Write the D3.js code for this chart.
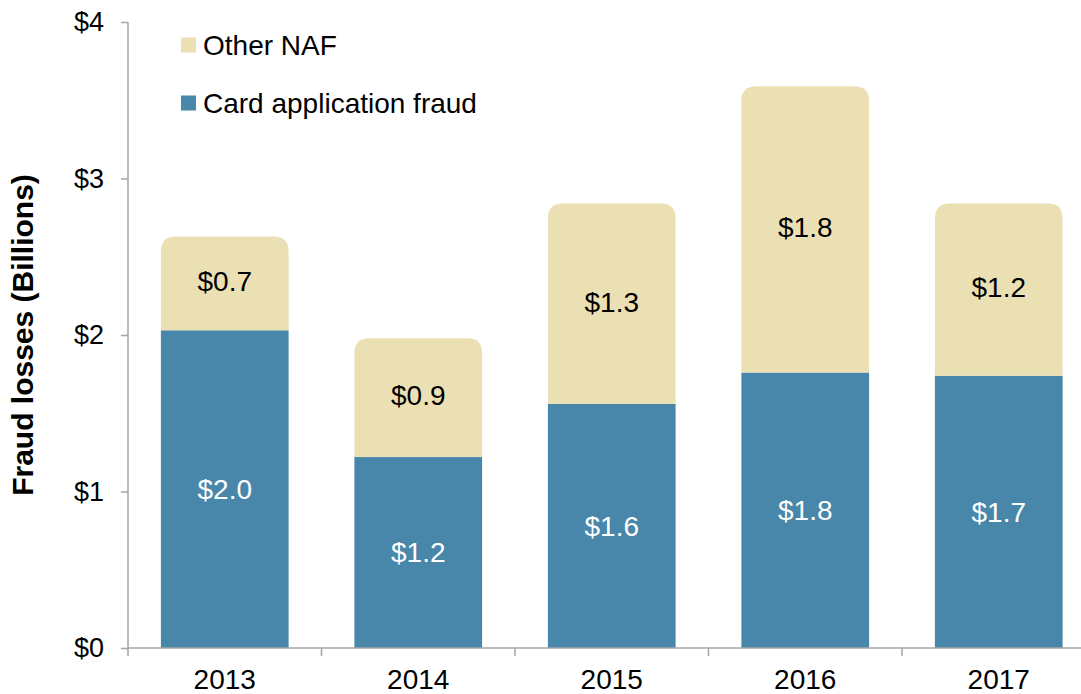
<!DOCTYPE html>
<html>
<head>
<meta charset="utf-8">
<script src="https://cdn.jsdelivr.net/npm/d3@7"></script>
<style>
  body { margin: 0; background: #fff; }
  text { font-family: "Liberation Sans", Arial, sans-serif; }
</style>
</head>
<body>
<script>
// chart data
var years = ["2013", "2014", "2015", "2016", "2017"];
var cardValues = [2.03, 1.22, 1.56, 1.76, 1.74];
var otherValues = [0.60, 0.76, 1.28, 1.83, 1.10];
var cardLabels = ["$2.0", "$1.2", "$1.6", "$1.8", "$1.7"];
var otherLabels = ["$0.7", "$0.9", "$1.3", "$1.8", "$1.2"];
var yTicks = [0, 1, 2, 3, 4];

var width = 1081,
    height = 694;

var blue = "#4887aa",
    tan = "#ebe0b4",
    axisGray = "#a6a6a6";

var x0 = 128, step = 193.5;

var x = d3.scaleBand()
    .domain(years)
    .range([x0, x0 + step * years.length])
    .paddingInner(0.34)
    .paddingOuter(0.17);

var y = d3.scaleLinear()
    .domain([0, 4])
    .range([648, 22]);

var svg = d3.select("body").append("svg")
    .attr("width", width)
    .attr("height", height);

var rows = years.map(function(yr, i) {
  return {year: yr, card: cardValues[i], other: otherValues[i],
    cardLabel: cardLabels[i], otherLabel: otherLabels[i]};
});

// bottom segment: card application fraud
svg.selectAll("rect.card")
    .data(rows)
  .enter().append("rect")
    .attr("class", "card")
    .attr("x", function(d) { return x(d.year); })
    .attr("y", function(d) { return y(d.card); })
    .attr("width", x.bandwidth())
    .attr("height", function(d) { return y(0) - y(d.card); })
    .attr("fill", blue);

// top segment with rounded top corners
function topPath(d) {
  var r = 15,
      x1 = x(d.year), x2 = x1 + x.bandwidth(),
      yb = y(d.card), yt = y(d.card + d.other);
  return "M" + x1 + "," + yb +
    "L" + x1 + "," + (yt + r) +
    "Q" + x1 + "," + yt + " " + (x1 + r) + "," + yt +
    "L" + (x2 - r) + "," + yt +
    "Q" + x2 + "," + yt + " " + x2 + "," + (yt + r) +
    "L" + x2 + "," + yb + "Z";
}

svg.selectAll("path.other")
    .data(rows)
  .enter().append("path")
    .attr("class", "other")
    .attr("d", topPath)
    .attr("fill", tan);

// value labels
svg.selectAll("text.cardLabel")
    .data(rows)
  .enter().append("text")
    .attr("x", function(d) { return x(d.year) + x.bandwidth() / 2; })
    .attr("y", function(d) { return y(d.card / 2); })
    .attr("dy", "0.35em")
    .attr("text-anchor", "middle")
    .attr("font-size", 28)
    .attr("fill", "#fff")
    .text(function(d) { return d.cardLabel; });

svg.selectAll("text.otherLabel")
    .data(rows)
  .enter().append("text")
    .attr("x", function(d) { return x(d.year) + x.bandwidth() / 2; })
    .attr("y", function(d) { return y(d.card + d.other / 2); })
    .attr("dy", "0.28em")
    .attr("text-anchor", "middle")
    .attr("font-size", 28)
    .attr("fill", "#000")
    .text(function(d) { return d.otherLabel; });

// y axis
var yAxis = svg.append("g")
    .attr("transform", "translate(" + x0 + ",0)")
    .call(d3.axisLeft(y).tickValues(yTicks).tickSize(7).tickPadding(17)
      .tickFormat(function(d) { return "$" + d; }));
yAxis.select(".domain").attr("stroke", axisGray).attr("stroke-width", 1.5)
    .attr("d", "M0," + y(4) + "V" + y(0));
yAxis.selectAll(".tick line").attr("stroke", axisGray).attr("stroke-width", 1.5);
yAxis.selectAll(".tick text")
    .attr("font-size", 27)
    .attr("font-family", "Liberation Sans, Arial, sans-serif")
    .attr("fill", "#000");

// x axis: baseline, boundary ticks, centred labels
var xAxis = svg.append("g");
xAxis.append("line")
    .attr("x1", x0).attr("x2", x0 + step * years.length)
    .attr("y1", y(0)).attr("y2", y(0))
    .attr("stroke", axisGray).attr("stroke-width", 1.5);
xAxis.selectAll("line.xtick")
    .data(d3.range(years.length + 1))
  .enter().append("line")
    .attr("class", "xtick")
    .attr("x1", function(i) { return x0 + i * x.step(); })
    .attr("x2", function(i) { return x0 + i * x.step(); })
    .attr("y1", y(0)).attr("y2", y(0) + 8)
    .attr("stroke", axisGray).attr("stroke-width", 1.5);
xAxis.selectAll("text")
    .data(years)
  .enter().append("text")
    .attr("x", function(d) { return x(d) + x.bandwidth() / 2; })
    .attr("y", 689)
    .attr("text-anchor", "middle")
    .attr("font-size", 28)
    .text(function(d) { return d; });

// y axis title
svg.append("text")
    .attr("transform", "translate(33,335) rotate(-90)")
    .attr("text-anchor", "middle")
    .attr("font-size", 30)
    .attr("font-weight", "bold")
    .text("Fraud losses (Billions)");

// legend
var legend = [
  {name: "Other NAF", color: tan, y: 45},
  {name: "Card application fraud", color: blue, y: 103}
];
var lg = svg.selectAll("g.legend")
    .data(legend)
  .enter().append("g")
    .attr("class", "legend")
    .attr("transform", function(d) { return "translate(181," + d.y + ")"; });
lg.append("rect")
    .attr("x", 0).attr("y", -7.5)
    .attr("width", 15).attr("height", 15)
    .attr("fill", function(d) { return d.color; });
lg.append("text")
    .attr("x", 22)
    .attr("dy", "0.35em")
    .attr("font-size", 28)
    .text(function(d) { return d.name; });
</script>
</body>
</html>
